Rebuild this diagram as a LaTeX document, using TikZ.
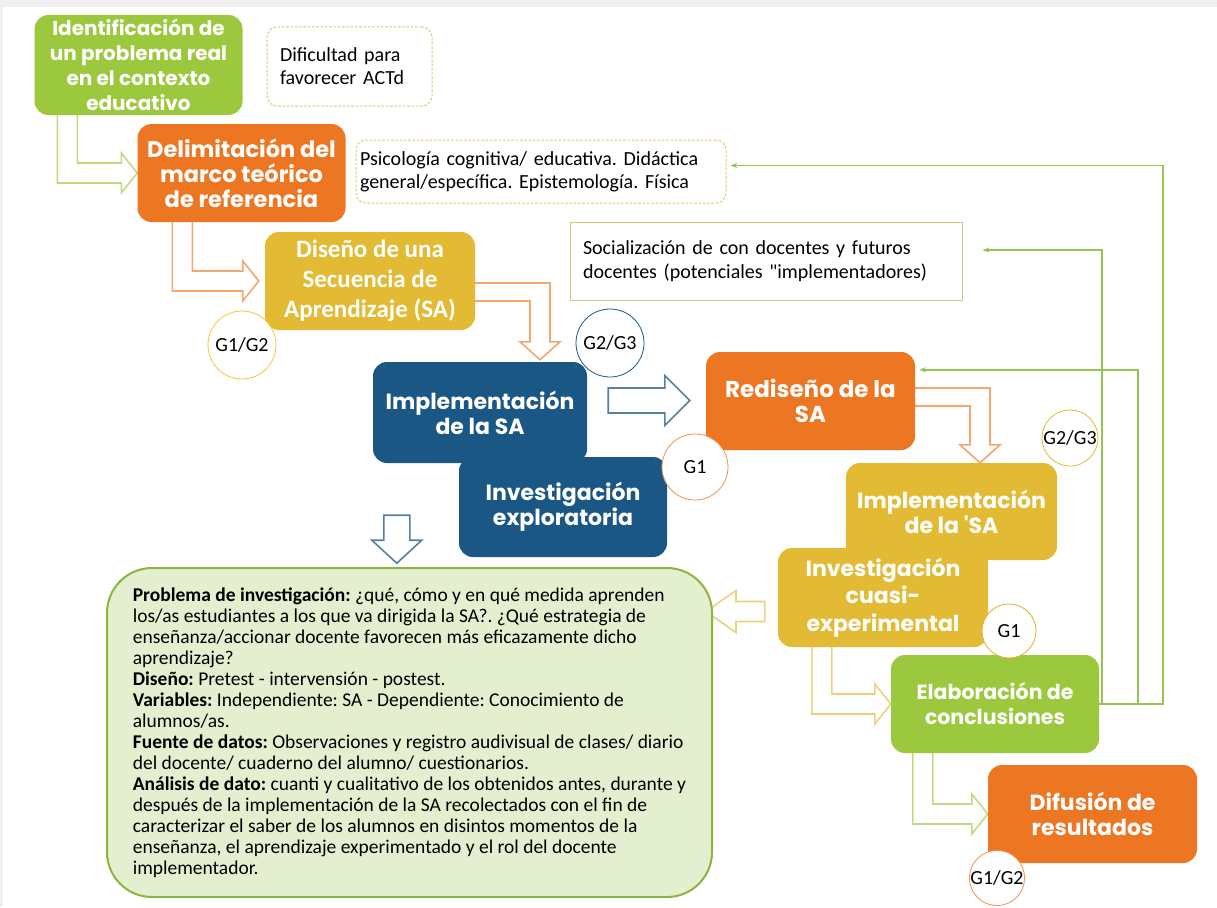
\documentclass[tikz,border=0pt]{standalone}
\usepackage{fontspec}
\setmainfont{Carlito}[Ligatures=TeXOff]
\newfontfamily\titlefont{Poppins}
\usetikzlibrary{arrows.meta, positioning, calc, backgrounds}

\definecolor{stagegreen}{RGB}{155,200,60}
\definecolor{stageorange}{RGB}{237,118,35}
\definecolor{stagegold}{RGB}{227,186,52}
\definecolor{stageblue}{RGB}{27,87,132}
\definecolor{notefill}{RGB}{228,239,207}
\definecolor{noteline}{RGB}{141,180,62}
\definecolor{loopgreen}{RGB}{150,196,82}
\definecolor{pagegray}{RGB}{240,240,240}

\begin{document}
\frenchspacing
\begin{tikzpicture}[
    x=1pt, y=-1pt,
    >=Stealth,
    % Styles
    stagebox/.style={rectangle, fill=#1, rounded corners=14pt, minimum width=208pt, minimum height=98pt, inner sep=2pt, text=white, align=center, font=\titlefont\bfseries\fontsize{22}{25}\selectfont},
    stagefont/.style={font=\titlefont\bfseries\fontsize{#1}{25}\selectfont},
    notebox/.style={rectangle, draw=#1, rounded corners=10pt, dash pattern=on 2.5pt off 1.8pt, line width=1pt, align=left, font=\fontsize{20}{23}\selectfont},
    sharebox/.style={rectangle, draw=#1, line width=0.8pt, align=left, font=\fontsize{20}{24}\selectfont},
    groupcircle/.style={circle, draw=#1, fill=white, line width=0.8pt, inner sep=0pt, font=\fontsize{20}{22}\selectfont},
    hollow/.style={draw=#1, fill=white, line width=1.6pt, line join=miter},
    feedback/.style={-{Stealth[length=7pt,width=5pt]}, draw=loopgreen, line width=1.8pt},
    downright/.style={to path={let \p1=(\tikztostart), \p2=(\tikztotarget) in
        (\x1-10pt,\y1) -- (\x1-10pt,\y2-10pt) -- (\x2-16pt,\y2-10pt) -- (\x2-16pt,\y2-20pt) -- (\x2,\y2)
        -- (\x2-16pt,\y2+20pt) -- (\x2-16pt,\y2+10pt) -- (\x1+10pt,\y2+10pt) -- (\x1+10pt,\y1)}},
    rightdown/.style={to path={let \p1=(\tikztostart), \p2=(\tikztotarget) in
        (\x1,\y1+9pt) -- (\x2+10pt,\y1+9pt) -- (\x2+10pt,\y2+18pt) -- (\x2+20pt,\y2+18pt) -- (\x2,\y2)
        -- (\x2-20pt,\y2+18pt) -- (\x2-10pt,\y2+18pt) -- (\x2-10pt,\y1-9pt) -- (\x1,\y1-9pt)}},
    arrowright/.style n args={3}{to path={let \p1=(\tikztostart), \p2=(\tikztotarget) in
        (\x1,\y1+#1) -- (\x2-#3,\y1+#1) -- (\x2-#3,\y1+#2) -- (\x2,\y1) -- (\x2-#3,\y1-#2) -- (\x2-#3,\y1-#1) -- (\x1,\y1-#1) -- cycle}},
    arrowleft/.style n args={3}{to path={let \p1=(\tikztostart), \p2=(\tikztotarget) in
        (\x1,\y1+#1) -- (\x2+#3,\y1+#1) -- (\x2+#3,\y1+#2) -- (\x2,\y1) -- (\x2+#3,\y1-#2) -- (\x2+#3,\y1-#1) -- (\x1,\y1-#1) -- cycle}},
    arrowdown/.style n args={3}{to path={let \p1=(\tikztostart), \p2=(\tikztotarget) in
        (\x1-#1,\y1) -- (\x1-#1,\y2+#3) -- (\x1-#2,\y2+#3) -- (\x1,\y2) -- (\x1+#2,\y2+#3) -- (\x1+#1,\y2+#3) -- (\x1+#1,\y1) -- cycle}},
]
\useasboundingbox (0,0) rectangle (1217,907);

% === STAGES ===
\node[stagebox=stagegreen, stagefont=20, minimum height=100pt] (ident) at (138.5,65) {Identificación de\\un problema real\\en el contexto\\educativo};
\node[stagebox=stageorange, stagefont=22.5] (delim) at (241.5,173) {Delimitación del\\marco teórico\\de referencia};
\node[stagebox=stagegold, minimum width=210pt, font=\bfseries\fontsize{25}{30}\selectfont] (design) at (370,281) {Diseño de una\\Secuencia de\\Aprendizaje (SA)};
\node[stagebox=stageblue, minimum width=214pt, minimum height=101pt] (impl) at (480,412.5) {Implementación\\de la SA};
\node[stagebox=stageblue, minimum height=100pt] (explor) at (563,507) {Investigación\\exploratoria};
\node[stagebox=stageorange, stagefont=23, minimum width=209pt] (redesign) at (810.5,401) {Rediseño de la\\SA};
\node[stagebox=stagegold, minimum width=211pt, minimum height=97pt] (impltwo) at (951.5,511.5) {Implementación\\de la 'SA};
\node[stagebox=stagegold, minimum width=210pt, minimum height=99pt, font=\titlefont\bfseries\fontsize{22}{27.5}\selectfont] (quasi) at (883,597.5) {Investigación\\cuasi-\\experimental};
\node[stagebox=stagegreen, stagefont=20.5] (conclus) at (995,704) {Elaboración de\\conclusiones};
\node[stagebox=stageorange, minimum width=209pt] (diffusion) at (1092.5,814) {Difusión de\\resultados};

% === NOTES ===
\node[notebox=stagegreen!70, minimum height=79pt, text width=139pt, inner xsep=13pt] (difficulty) at (349.5,66.5) {Dificultad para\\favorecer ACTd};
\node[notebox=stagegold!80, minimum height=63pt, text width=362pt, inner xsep=4pt] (theory) at (541,171.5) {Psicología cognitiva/ educativa. Didáctica\\general/específica. Epistemología. Física};
\node[sharebox=stagegold!60!olive!60, minimum height=78pt, text width=366pt, inner xsep=13pt] (social) at (766,261) {Socialización de con docentes y futuros\\docentes (potenciales "implementadores)};
\node[rectangle, draw=noteline, fill=notefill, line width=2pt, rounded corners=45pt, minimum width=605pt, minimum height=329pt, align=left, font=\fontsize{19.5}{21}\selectfont] (research) at (409.5,732.5) {%
\textbf{Problema de investigación:} ¿qué, cómo y en qué medida aprenden\\
los/as estudiantes a los que va dirigida la SA?. ¿Qué estrategia de\\
enseñanza/accionar docente favorecen más eficazamente dicho\\
aprendizaje?\\
\textbf{Diseño:} Pretest - intervensión - postest.\\
\textbf{Variables:} Independiente: SA - Dependiente: Conocimiento de\\
alumnos/as.\\
\textbf{Fuente de datos:} Observaciones y registro audivisual de clases/ diario\\
del docente/ cuaderno del alumno/ cuestionarios.\\
\textbf{Análisis de dato:} cuanti y cualitativo de los obtenidos antes, durante y\\
después de la implementación de la SA recolectados con el fin de\\
caracterizar el saber de los alumnos en disintos momentos de la\\
enseñanza, el aprendizaje experimentado y el rol del docente\\
implementador.};

% === GROUP CIRCLES ===
\node[groupcircle=orange!60!yellow!80, minimum size=68pt] (gonetwo) at (242,345) {G1/G2};
\node[groupcircle=stageblue, minimum size=68pt] (gtwothree) at (610,343) {G2/G3};
\node[groupcircle=stageorange!80, minimum size=66pt] (gone) at (695,467) {G1};
\node[groupcircle=stagegold, minimum size=56pt] (gtwothreeb) at (1070,438) {G2/G3};
\node[groupcircle=stagegold!80!orange, minimum size=54pt] (goneb) at (1009,631) {G1};
\node[groupcircle=stageorange!80, minimum size=54pt] (gonetwob) at (997,878) {G1/G2};

% === FLOW ARROWS ===
\begin{scope}[on background layer]
\fill[pagegray] (0,0) rectangle (1217,907);
\fill[white] (3,7) rectangle (1217,907);
\draw[hollow=stagegreen!65] ($(ident.south west)+(33,0)$) to[downright] (delim.west);
\draw[hollow=stageorange!65] ($(delim.south west)+(45,0)$) to[downright] ($(design.west)+(-6,0)$);
\draw[hollow=stageorange!65] ($(design.east)+(0,11)$) to[rightdown] ($(impl.north)+(60,-2)$);
\draw[hollow=stageblue!75] ($(impl.east)+(21,-12)$) to[arrowright={12.5pt}{25pt}{25pt}] ($(redesign.west)+(-16,0)$);
\draw[hollow=stageblue!75] ($(impl.south west)+(24,52)$) to[arrowdown={13pt}{25pt}{23pt}] ($(impl.south west)+(24,100)$);
\draw[hollow=stageorange!65] ($(redesign.east)+(0,-4)$) to[rightdown] ($(impltwo.north)+(28.5,0)$);
\draw[hollow=stagegold!65] ($(quasi.west)+(-13,14)$) to[arrowleft={10pt}{21pt}{30pt}] ($(research.east)+(-7,0)$);
\draw[hollow=stagegold!65] ($(quasi.south west)+(44,0)$) to[downright] (conclus.west);
\draw[hollow=stagegreen!65] ($(conclus.south west)+(32,0)$) to[downright] (diffusion.west);
\end{scope}

% === FEEDBACK LINES ===
\draw[feedback] (conclus.east) -- ++(3,0) |- ($(social.east)+(20,-11)$);
\draw[feedback] (conclus.east) -- ++(39,0) |- ($(redesign.north east)+(4,18)$);
\draw[feedback] (conclus.east) -- ++(64,0) |- ($(theory.east)+(4,-6)$);

\end{tikzpicture}
\end{document}
